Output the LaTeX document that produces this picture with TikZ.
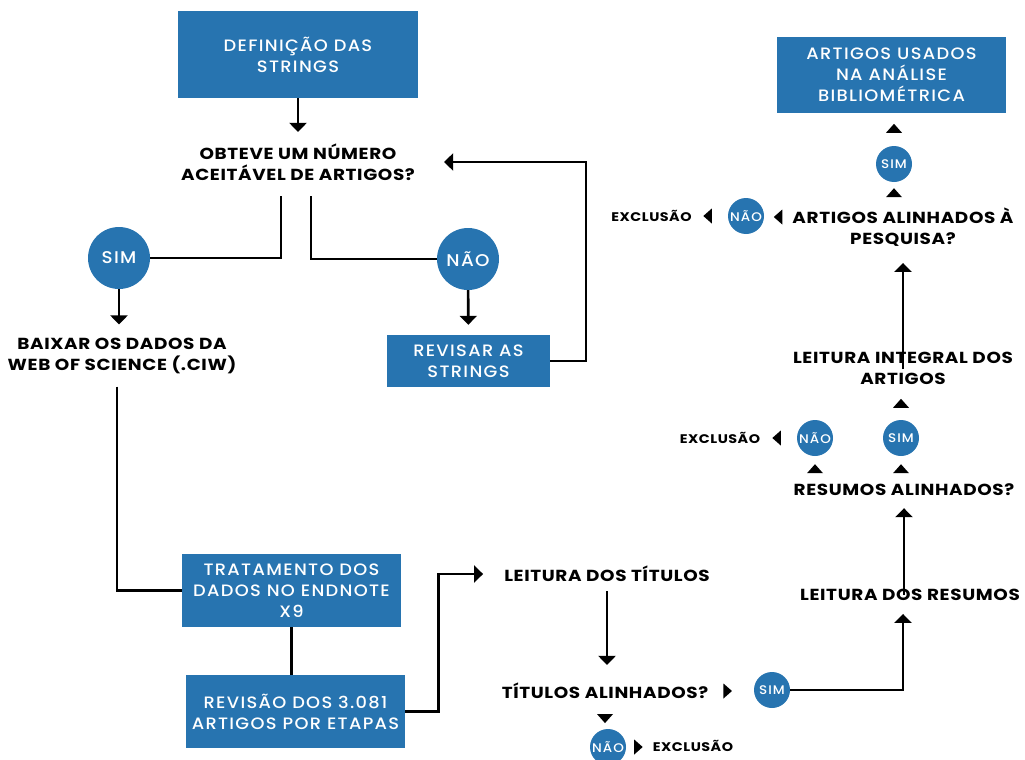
\documentclass[tikz,border=0pt]{standalone}
\usepackage{fontspec}
\setmainfont{Poppins}[FakeStretch=1.15, LetterSpace=4]
\newfontfamily\boxfont{Poppins Medium}[FakeStretch=1.08, LetterSpace=8]
\usepackage{xcolor}
\usetikzlibrary{arrows.meta}
\definecolor{boxblue}{RGB}{39,116,176}

\begin{document}
\begin{tikzpicture}[x=1pt,y=-1pt,
  stepbox/.style={rectangle, fill=boxblue, text=white, align=center, inner sep=0pt, font=\boxfont\fontsize{16.5}{21}\selectfont},
  question/.style={align=center, inner sep=0pt, font=\bfseries\fontsize{16}{21}\selectfont},
  bigdot/.style={circle, fill=boxblue, text=white, inner sep=0pt, minimum size=62pt, font=\boxfont\fontsize{17}{20}\selectfont},
  smalldot/.style={circle, fill=boxblue, text=white, inner sep=0pt, minimum size=36pt, font=\boxfont\fontsize{12.5}{14}\selectfont},
  excl/.style={inner sep=0pt, font=\bfseries\fontsize{12.5}{14}\selectfont},
  conn/.style={line width=2.6pt},
  arr/.style={conn, -{Triangle[width=17pt,length=9pt]}},
  tipU/.pic={\fill (-8,0) -- (0,-9) -- (8,0) -- cycle;},
  tipD/.pic={\fill (-8,0) -- (0,9) -- (8,0) -- cycle;},
  tipR/.pic={\fill (0,-7.5) -- (8.5,0) -- (0,7.5) -- cycle;},
  tipL/.pic={\fill (0,-7.5) -- (-8.5,0) -- (0,7.5) -- cycle;}]
\useasboundingbox (0,0) rectangle (1025,760);

\node[stepbox, minimum width=240pt, minimum height=87pt] (def) at (298,54.5) {DEFINIÇÃO DAS\\STRINGS};
\node[question] (obt) at (298,162.5) {OBTEVE UM NÚMERO\\ACEITÁVEL DE ARTIGOS?};
\node[bigdot] (sim1) at (119,258) {SIM};
\node[bigdot] (nao1) at (468,259) {NÃO};
\node[question] (baixar) at (122,355.5) {BAIXAR OS DADOS DA\\WEB OF SCIENCE (.CIW)};
\node[stepbox, minimum width=163pt, minimum height=52pt] (revisar) at (468.5,361) {REVISAR AS\\STRINGS};
\node[stepbox, minimum width=219pt, minimum height=73pt] (trat) at (291.5,590.5) {TRATAMENTO DOS\\DADOS NO ENDNOTE\\X9};
\node[stepbox, minimum width=219pt, minimum height=73pt] (revisao) at (295.5,711.5) {REVISÃO DOS 3.081\\ARTIGOS POR ETAPAS};

\node[question] (ltit) at (607,574) {LEITURA DOS TÍTULOS};
\node[question] (talin) at (605,691) {TÍTULOS ALINHADOS?};
\node[smalldot] (sim2) at (772,690) {SIM};
\node[smalldot] (nao2) at (608,747) {NÃO};
\node[excl] (exc1) at (693,746) {EXCLUSÃO};
\node[question] (lres) at (910,595) {LEITURA DOS RESUMOS};
\node[question] (ralin) at (904,490) {RESUMOS ALINHADOS?};
\node[smalldot] (nao3) at (815,438) {NÃO};
\node[smalldot] (sim3) at (901,438) {SIM};
\node[excl] (exc2) at (720,438) {EXCLUSÃO};
\node[question] (lint) at (903,368.5) {LEITURA INTEGRAL DOS\\ARTIGOS};
\node[question] (aalin) at (903,227.5) {ARTIGOS ALINHADOS À\\PESQUISA?};
\node[smalldot] (nao4) at (746,216) {NÃO};
\node[smalldot] (sim4) at (894,164) {SIM};
\node[excl] (exc3) at (651.5,216) {EXCLUSÃO};
\node[stepbox, minimum width=229pt, minimum height=76pt] (usados) at (891.5,75) {ARTIGOS USADOS\\NA ANÁLISE\\BIBLIOMÉTRICA};

\coordinate (loopc) at (586,162);

\draw[arr, shorten >=12pt] (def) -- (obt);
\draw[conn] ([xshift=-17pt,yshift=-15pt]obt.south) |- (sim1);
\draw[conn] ([xshift=13pt,yshift=-15pt]obt.south) |- (nao1);
\draw[arr, shorten >=13pt] (sim1) -- (sim1 |- baixar.north);
\draw[arr, shorten >=10pt] (nao1) -- (revisar);
\draw[arr, shorten >=29pt] (revisar.east) -| (loopc) -- (loopc -| obt.east);
\draw[conn] ([xshift=-5pt,yshift=-13pt]baixar.south) |- (trat);
\draw[conn] (trat.south) -- (trat.south |- revisao.north);
\draw[arr, shorten >=21pt] (revisao.east) -- ++(33,0) |- (ltit);
\draw[arr, shorten <=9pt, shorten >=18pt] (ltit.south) -- (ltit.south |- talin.north);
\draw[arr, shorten >=13pt] (sim2.east) -| ([xshift=-7pt]lres.south);
\draw[arr, shorten <=-6pt, shorten >=12pt] (lres.north -| ralin.south) -- (ralin.south);
\draw[arr, shorten <=-17pt, shorten >=16pt] (lint.north) -- (aalin.south);

\pic at ([xshift=15pt]talin.east) {tipR};
\pic at ([yshift=-15pt]talin.south) {tipD};
\pic at ([xshift=8pt]nao2.east) {tipR};
\pic at ([yshift=-17pt]nao3.south) {tipU};
\pic at ([yshift=-17pt]sim3.south) {tipU};
\pic at ([xshift=-16pt]nao3.west) {tipL};
\pic at ([yshift=12pt]sim3.north) {tipU};
\pic at ([xshift=-10pt,yshift=10.5pt]aalin.west) {tipL};
\pic at ([xshift=-16pt]nao4.west) {tipL};
\pic at ([yshift=-15pt]sim4.south) {tipU};
\pic at ([yshift=13pt]sim4.north) {tipU};
\end{tikzpicture}
\end{document}
